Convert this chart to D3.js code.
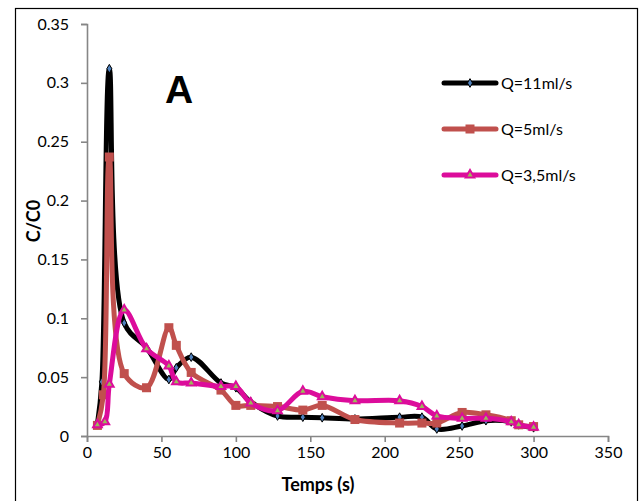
<!DOCTYPE html>
<html>
<head>
<meta charset="utf-8">
<script src="https://cdn.jsdelivr.net/npm/d3@7"></script>
<style>
  body { margin: 0; background: #fff; }
  text { font-family: Lato, "Open Sans", sans-serif; }
</style>
</head>
<body>
<div id="chart"></div>
<script>
// data
var temps = [7, 10, 15, 25, 40, 55, 60, 70, 90, 100, 110, 128, 145, 158, 180, 210, 225, 235, 252, 268, 285, 290, 300];
var temps5 = [7, 11, 15, 25, 40, 55, 60, 70, 90, 100, 110, 128, 145, 158, 180, 210, 225, 235, 252, 268, 285, 290, 300];
var temps35 = [7, 12, 15, 25, 40, 55, 60, 70, 90, 100, 110, 128, 145, 158, 180, 210, 225, 235, 252, 268, 285, 290, 300];
var q11 = [0.010, 0.046, 0.312, 0.096, 0.075, 0.048, 0.058, 0.067, 0.045, 0.041, 0.029, 0.017, 0.016, 0.0155, 0.0145, 0.016, 0.016, 0.006, 0.0085, 0.013, 0.012, 0.0095, 0.007];
var q5 = [0.009, 0.035, 0.237, 0.053, 0.041, 0.092, 0.077, 0.054, 0.039, 0.026, 0.026, 0.025, 0.022, 0.026, 0.014, 0.011, 0.011, 0.011, 0.020, 0.018, 0.013, 0.0095, 0.008];
var q35 = [0.0095, 0.012, 0.044, 0.107, 0.074, 0.0595, 0.046, 0.045, 0.042, 0.042, 0.028, 0.0215, 0.038, 0.0334, 0.030, 0.030, 0.025, 0.017, 0.015, 0.015, 0.012, 0.0095, 0.0075];
var seriesNames = ["Q=11ml/s", "Q=5ml/s", "Q=3,5ml/s"];
var xTicks = [0, 50, 100, 150, 200, 250, 300, 350];
var yTicks = [0, 0.05, 0.1, 0.15, 0.2, 0.25, 0.3, 0.35];

var width = 640, height = 501;
var plotLeft = 87, plotRight = 608, plotTop = 24, plotBottom = 436;

var svg = d3.select("#chart").append("svg")
  .attr("width", width)
  .attr("height", height);

// outer frame
svg.append("rect")
  .attr("x", 15.5).attr("y", 8.5)
  .attr("width", 622).attr("height", 600)
  .attr("fill", "#fff")
  .attr("stroke", "#000")
  .attr("stroke-width", 1.2);

var x = d3.scaleLinear().domain([0, 350]).range([plotLeft, plotRight]);
var y = d3.scaleLinear().domain([0, 0.35]).range([plotBottom, plotTop]);

var axisColor = "#868686";

var gx = svg.append("g")
  .attr("transform", "translate(0," + plotBottom + ")")
  .call(d3.axisBottom(x).tickValues(xTicks).tickSize(6).tickPadding(5).tickFormat(d3.format("d")));
var gy = svg.append("g")
  .attr("transform", "translate(" + plotLeft + ",0)")
  .call(d3.axisLeft(y).tickValues(yTicks).tickSize(6).tickPadding(12).tickFormat(function(d) { return +d.toFixed(2); }));

[gx, gy].forEach(function(g) {
  g.select(".domain").attr("stroke", axisColor).attr("stroke-width", 1.6);
  g.selectAll(".tick line").attr("stroke", axisColor).attr("stroke-width", 1.6);
  g.selectAll(".tick text").attr("fill", "#000").style("font-size", "16px").style("font-family", "Lato, sans-serif");
});

// axis titles
svg.append("text")
  .attr("x", 318).attr("y", 491)
  .attr("text-anchor", "middle")
  .style("font-size", "18px").style("font-weight", "bold")
  .text("Temps (s)");
svg.append("text")
  .attr("transform", "translate(40,221) rotate(-90)")
  .attr("text-anchor", "middle")
  .style("font-size", "18px").style("font-weight", "bold")
  .text("C/C0");

svg.append("text")
  .attr("x", 165).attr("y", 103)
  .style("font-family", "'Liberation Sans', Arial, sans-serif")
  .style("font-size", "39px").style("font-weight", "bold")
  .text("A");

var series = [
  { name: seriesNames[0], xs: temps, ys: q11, color: "#000000", marker: "diamond" },
  { name: seriesNames[1], xs: temps5, ys: q5, color: "#c0504d", marker: "square" },
  { name: seriesNames[2], xs: temps35, ys: q35, color: "#dc0c9b", marker: "triangle" }
];

var line = d3.line()
  .x(function(d) { return x(d[0]); })
  .y(function(d) { return y(d[1]); })
  .curve(d3.curveCatmullRom.alpha(0.5));

function drawMarker(g, type, color) {
  if (type == "diamond") {
    g.append("path")
      .attr("d", d3.symbol().type(d3.symbolDiamond).size(22))
      .attr("fill", "#4f81bd").attr("stroke", "#000").attr("stroke-width", 1);
  } else if (type == "square") {
    g.append("rect")
      .attr("x", -4.5).attr("y", -4.5).attr("width", 9).attr("height", 9)
      .attr("fill", color);
  } else {
    g.append("path")
      .attr("d", d3.symbol().type(d3.symbolTriangle).size(32))
      .attr("fill", "#9bbb59").attr("stroke", color).attr("stroke-width", 2);
  }
}

series.forEach(function(s) {
  var pts = s.xs.map(function(t, i) { return [t, s.ys[i]]; });
  svg.append("path")
    .datum(pts)
    .attr("d", line)
    .attr("fill", "none")
    .attr("stroke", s.color)
    .attr("stroke-width", 5)
    .attr("stroke-linejoin", "round");
  pts.forEach(function(p) {
    var g = svg.append("g").attr("transform", "translate(" + x(p[0]) + "," + y(p[1]) + ")");
    drawMarker(g, s.marker, s.color);
  });
});

// legend
var legendY = [83, 129, 175];
series.forEach(function(s, i) {
  svg.append("line")
    .attr("x1", 444).attr("x2", 496)
    .attr("y1", legendY[i]).attr("y2", legendY[i])
    .attr("stroke", s.color).attr("stroke-width", 5)
    .attr("stroke-linecap", "round");
  var g = svg.append("g").attr("transform", "translate(470," + legendY[i] + ")");
  drawMarker(g, s.marker, s.color);
  svg.append("text")
    .attr("x", 501).attr("y", legendY[i] + 6)
    .style("font-size", "16px")
    .text(s.name);
});
</script>
</body>
</html>
